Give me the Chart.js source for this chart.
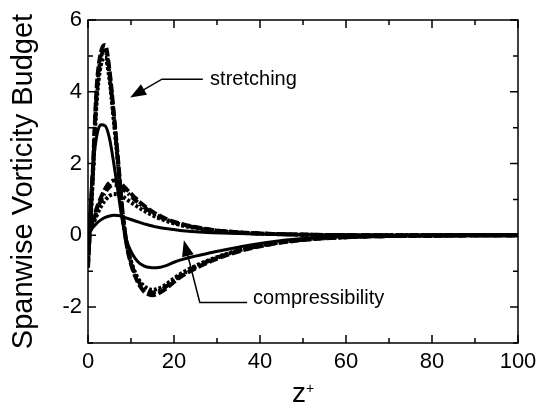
<!DOCTYPE html>
<html>
<head>
<meta charset="utf-8">
<script src="https://cdn.jsdelivr.net/npm/chart.js@4.4.1/dist/chart.umd.min.js"></script>
<style>
  html, body { margin: 0; padding: 0; background: #fff; }
</style>
</head>
<body>
<canvas id="budget" width="552" height="405"></canvas>
<script>
// wall distance z+ (shared by all curves)
const zPlus = [0, 1, 2, 3, 4, 5, 6, 7, 8, 9, 10, 11, 12, 13, 14, 15, 16, 18, 20, 22, 25, 29, 35, 42, 50, 60, 70, 80, 90, 100];

// stretching term, four cases
const stretchSolid = [-0.3, 1.7, 2.75, 3.08, 3.05, 2.7, 2.0, 1.2, 0.4, -0.15, -0.45, -0.65, -0.78, -0.85, -0.89, -0.9, -0.9, -0.85, -0.75, -0.67, -0.58, -0.47, -0.33, -0.19, -0.09, -0.04, -0.015, -0.005, 0, 0];
const stretchDash = [-0.9, 1.5, 4.1, 5.1, 5.3, 4.6, 3.4, 2.1, 0.7, -0.25, -0.8, -1.15, -1.4, -1.56, -1.64, -1.67, -1.64, -1.5, -1.3, -1.12, -0.92, -0.7, -0.45, -0.26, -0.13, -0.05, -0.02, -0.01, 0, 0];
const stretchDashDot = [-0.8, 1.4, 3.9, 4.95, 5.15, 4.5, 3.3, 2.0, 0.65, -0.25, -0.75, -1.1, -1.33, -1.48, -1.56, -1.59, -1.57, -1.44, -1.25, -1.08, -0.88, -0.67, -0.43, -0.25, -0.12, -0.05, -0.02, -0.01, 0, 0];
const stretchDot = [-0.7, 1.3, 3.7, 4.75, 4.95, 4.35, 3.2, 1.95, 0.6, -0.25, -0.72, -1.05, -1.27, -1.41, -1.49, -1.52, -1.5, -1.38, -1.2, -1.04, -0.85, -0.65, -0.42, -0.24, -0.12, -0.05, -0.02, -0.01, 0, 0];

// compressibility term, four cases
const compSolid = [0, 0.2, 0.33, 0.43, 0.5, 0.54, 0.56, 0.55, 0.52, 0.48, 0.44, 0.4, 0.36, 0.32, 0.29, 0.26, 0.23, 0.19, 0.16, 0.13, 0.1, 0.075, 0.05, 0.03, 0.015, 0.005, 0, 0, 0, 0];
const compDash = [0, 0.35, 0.75, 1.05, 1.3, 1.47, 1.53, 1.5, 1.4, 1.28, 1.16, 1.04, 0.93, 0.83, 0.74, 0.66, 0.59, 0.47, 0.38, 0.31, 0.23, 0.15, 0.085, 0.045, 0.02, 0.007, 0.002, 0, 0, 0];
const compDashDot = [0, 0.3, 0.68, 0.97, 1.2, 1.35, 1.4, 1.38, 1.3, 1.2, 1.09, 0.98, 0.88, 0.79, 0.7, 0.63, 0.56, 0.45, 0.36, 0.29, 0.22, 0.145, 0.08, 0.04, 0.018, 0.006, 0.002, 0, 0, 0];
const compDot = [0, 0.25, 0.55, 0.8, 0.98, 1.1, 1.15, 1.14, 1.08, 1.0, 0.92, 0.84, 0.76, 0.69, 0.62, 0.56, 0.5, 0.41, 0.33, 0.27, 0.2, 0.13, 0.075, 0.04, 0.017, 0.006, 0.002, 0, 0, 0];

// axis ticks
const xTickLabels = [0, 20, 40, 60, 80, 100];
const yTickLabels = [-2, 0, 2, 4, 6];

const FONT = '"Liberation Sans", Arial, Helvetica, sans-serif';

function toPoints(values) {
    return values.map((v, i) => ({ x: zPlus[i], y: v }));
}

function curve(values, dash, width) {
    return {
        data: toPoints(values),
        borderColor: '#000',
        borderWidth: width,
        borderDash: dash,
        pointRadius: 0,
        fill: false,
        cubicInterpolationMode: 'monotone'
    };
}

// annotation arrows, in data units
const annotations = [
    { text: 'stretching', tip: [9.8, 3.84], elbow: [17.2, 4.35], end: [26.7, 4.35], label: [28.4, 4.35] },
    { text: 'compressibility', tip: [22.3, -0.14], elbow: [26.0, -1.87], end: [37.0, -1.87], label: [38.4, -1.77] }
];

function arrowHead(ctx, fromX, fromY, toX, toY) {
    const ang = Math.atan2(toY - fromY, toX - fromX);
    const len = 16, half = 6;
    ctx.beginPath();
    ctx.moveTo(toX, toY);
    ctx.lineTo(toX - len * Math.cos(ang) + half * Math.sin(ang), toY - len * Math.sin(ang) - half * Math.cos(ang));
    ctx.lineTo(toX - len * Math.cos(ang) - half * Math.sin(ang), toY - len * Math.sin(ang) + half * Math.cos(ang));
    ctx.closePath();
    ctx.fill();
}

// frame with inward ticks on all sides, x title with superscript, arrows
const frameTicks = {
    id: 'frameTicks',
    afterDraw(chart) {
        const { ctx, chartArea: a, scales: { x, y } } = chart;
        ctx.save();
        ctx.strokeStyle = '#000';
        ctx.fillStyle = '#000';
        ctx.lineWidth = 1.5;
        ctx.strokeRect(a.left, a.top, a.right - a.left, a.bottom - a.top);

        ctx.beginPath();
        x.ticks.forEach(t => {
            const px = x.getPixelForValue(t.value);
            const len = xTickLabels.includes(t.value) ? 8 : 5;
            ctx.moveTo(px, a.bottom); ctx.lineTo(px, a.bottom - len);
            ctx.moveTo(px, a.top); ctx.lineTo(px, a.top + len);
        });
        y.ticks.forEach(t => {
            const py = y.getPixelForValue(t.value);
            const len = yTickLabels.includes(t.value) ? 8 : 5;
            ctx.moveTo(a.left, py); ctx.lineTo(a.left + len, py);
            ctx.moveTo(a.right, py); ctx.lineTo(a.right - len, py);
        });
        ctx.stroke();

        // x axis title: z with superscript +
        const cx = (a.left + a.right) / 2;
        ctx.textBaseline = 'alphabetic';
        ctx.textAlign = 'left';
        ctx.font = '28px ' + FONT;
        const zw = ctx.measureText('z').width;
        ctx.font = '14px ' + FONT;
        const pw = ctx.measureText('+').width;
        const x0 = cx - (zw + pw) / 2;
        ctx.font = '28px ' + FONT;
        ctx.fillText('z', x0, 402);
        ctx.font = '14px ' + FONT;
        ctx.fillText('+', x0 + zw, 393);

        // annotation arrows
        ctx.lineWidth = 1.5;
        annotations.forEach(an => {
            const tx = x.getPixelForValue(an.tip[0]), ty = y.getPixelForValue(an.tip[1]);
            const ex = x.getPixelForValue(an.elbow[0]), ey = y.getPixelForValue(an.elbow[1]);
            const nx = x.getPixelForValue(an.end[0]), ny = y.getPixelForValue(an.end[1]);
            const ang = Math.atan2(ty - ey, tx - ex);
            ctx.beginPath();
            ctx.moveTo(nx, ny);
            ctx.lineTo(ex, ey);
            ctx.lineTo(tx - 10 * Math.cos(ang), ty - 10 * Math.sin(ang));
            ctx.stroke();
            arrowHead(ctx, ex, ey, tx, ty);
            ctx.font = '20px ' + FONT;
            ctx.textBaseline = 'middle';
            ctx.fillText(an.text, x.getPixelForValue(an.label[0]), y.getPixelForValue(an.label[1]));
        });
        ctx.restore();
    }
};

new Chart(document.getElementById('budget'), {
    type: 'line',
    data: {
        datasets: [
            curve(stretchSolid, [], 3),
            curve(stretchDash, [9, 3], 4),
            curve(stretchDashDot, [8, 3, 2, 3], 4),
            curve(stretchDot, [3, 2], 4),
            curve(compSolid, [], 3),
            curve(compDash, [9, 3], 4),
            curve(compDashDot, [8, 3, 2, 3], 4),
            curve(compDot, [3, 2], 4)
        ]
    },
    options: {
        responsive: false,
        animation: false,
        layout: { padding: { left: 0, right: 34, top: 20, bottom: 0 } },
        plugins: { legend: { display: false }, tooltip: { enabled: false } },
        scales: {
            x: {
                type: 'linear',
                min: 0, max: 100,
                grid: { display: false, drawTicks: false },
                border: { display: false },
                ticks: {
                    stepSize: 10,
                    padding: 6,
                    maxRotation: 0,
                    autoSkip: false,
                    color: '#000',
                    font: { family: FONT, size: 22 },
                    callback: v => xTickLabels.includes(v) ? String(v) : ''
                },
                afterFit: s => { s.height = 62; }
            },
            y: {
                type: 'linear',
                min: -3, max: 6,
                grid: { display: false, drawTicks: false },
                border: { display: false },
                ticks: {
                    stepSize: 1,
                    padding: 6,
                    autoSkip: false,
                    color: '#000',
                    font: { family: FONT, size: 22 },
                    callback: v => yTickLabels.includes(v) ? String(v) : ''
                },
                title: {
                    display: true,
                    text: 'Spanwise Vorticity Budget',
                    color: '#000',
                    font: { family: FONT, size: 29 },
                    padding: { top: 7, bottom: 0 }
                },
                afterFit: s => { s.width = 88; }
            }
        }
    },
    plugins: [frameTicks]
});
</script>
</body>
</html>
